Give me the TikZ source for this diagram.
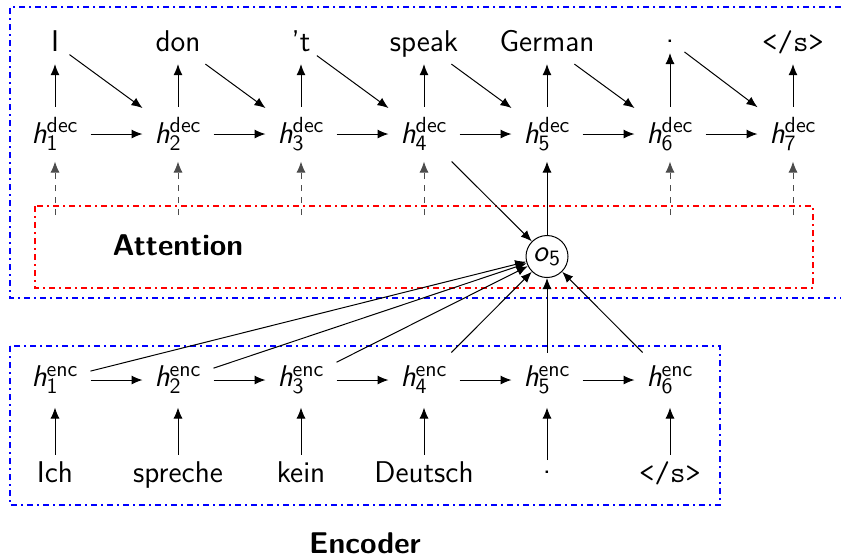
\documentclass[tikz,border=0pt]{standalone}
\usetikzlibrary{arrows.meta}
\newcommand{\hdec}[1]{\textit{h}$^{\mathsf{dec}}_{\mathsf{#1}}$}
\newcommand{\henc}[1]{\textit{h}$^{\mathsf{enc}}_{\mathsf{#1}}$}
\begin{document}
\begin{tikzpicture}[x=0.5pt,y=-0.5pt,
  font=\fontsize{15}{18}\selectfont\sffamily,
  >={Latex[length=5.5pt,width=4.5pt]},
  line width=0.5pt,
  hnode/.style={inner sep=0pt, minimum width=35pt, minimum height=27pt},
  word/.style={text height=10.5pt, text depth=2.7pt, inner ysep=3.2pt, inner xsep=3pt, minimum width=14pt},
  dotword/.style={text height=1.5pt, text depth=0pt, inner ysep=5pt, inner xsep=3pt, minimum width=14pt},
  onode/.style={circle, draw, inner sep=0pt, minimum size=21pt},
  conn/.style={->},
  attn/.style={->, dashed, black!70},
  bluebox/.style={draw=blue, line width=1pt, dashdotted},
  redbox/.style={draw=red, line width=1pt, dashdotted},
  lbl/.style={font=\fontsize{15}{18}\selectfont\sffamily\bfseries}
]
\useasboundingbox (0,0) rectangle (841,554);

% boxes
\draw[bluebox] (841,7) -- (10,7) -- (10,298) -- (841,298);
\draw[redbox] (35,206) rectangle (813,288);
\draw[bluebox] (10,346) rectangle (720,505);

% decoder words
\node[word] (w1) at (55,44) {I};
\node[word] (w2) at (178,44) {don};
\node[word] (w3) at (301,44) {'t};
\node[word] (w4) at (424,44) {speak};
\node[word] (w5) at (547,44) {German};
\node[dotword] (w6) at (670,41) {.};
\node[word] (w7) at (793,44) {\texttt{</s>}};

% decoder states
\foreach \i/\x in {1/55,2/178,3/301,4/424,5/547,6/670,7/793}{
  \node[hnode] (d\i) at (\x,134) {\hdec{\i}};
  \coordinate (a\i) at (\x,215);
}

% encoder states and words
\foreach \i/\x in {1/55,2/178,3/301,4/424,5/547,6/670}{
  \node[hnode] (e\i) at (\x,380) {\henc{\i}};
}
\node[word] (s1) at (55,475) {Ich};
\node[word] (s2) at (178,475) {spreche};
\node[word] (s3) at (301,475) {kein};
\node[word] (s4) at (424,475) {Deutsch};
\node[dotword] (s5) at (547,472) {.};
\node[word] (s6) at (670,475) {\texttt{</s>}};

% attention output
\node[onode] (o5) at (547,256.5) {\textit{o}$_{\mathsf{5}}$};

% labels
\node[lbl] (attlbl) at (178,245) {Attention};
\node[lbl] (enclbl) at (365,543) {Encoder};

% decoder connections
\foreach \i in {1,...,7}{ \draw[conn] (d\i) -- (w\i); }
\foreach \i/\j in {1/2,2/3,3/4,4/5,5/6,6/7}{
  \draw[conn] (d\i) -- (d\j);
  \draw[conn] (w\i) -- (d\j);
}
\foreach \i in {1,2,3,4,6,7}{ \draw[attn] (a\i) -- (d\i); }

% encoder connections
\foreach \i in {1,...,6}{ \draw[conn] (s\i) -- (e\i); }
\foreach \i/\j in {1/2,2/3,3/4,4/5,5/6}{ \draw[conn] (e\i) -- (e\j); }

% attention
\foreach \i in {1,...,6}{ \draw[conn] (e\i) -- (o5); }
\draw[conn] (d4) -- (o5);
\draw[conn] (o5) -- (d5);
\end{tikzpicture}
\end{document}
